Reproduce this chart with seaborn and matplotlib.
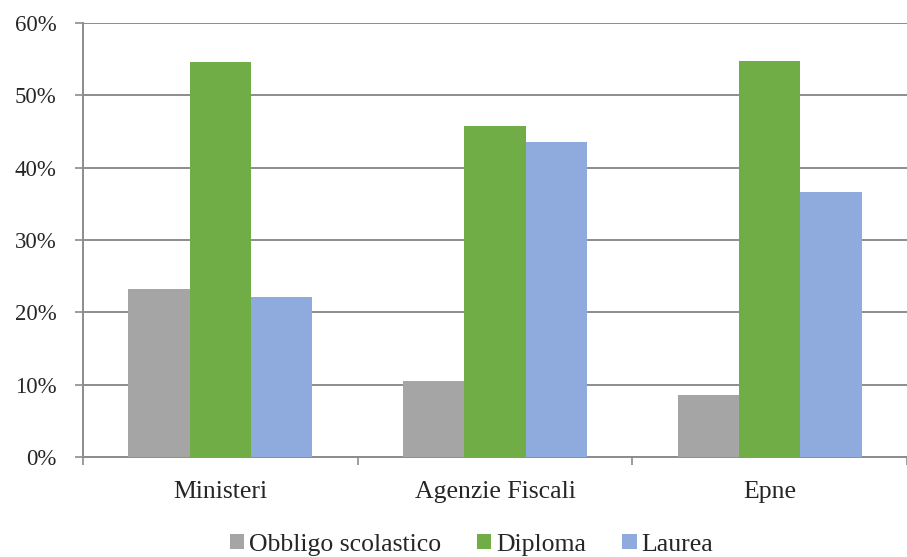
import matplotlib
matplotlib.use('Agg')
import matplotlib.pyplot as plt
from matplotlib.patches import Patch
from matplotlib.ticker import FixedLocator, PercentFormatter
import pandas as pd
import seaborn as sns

# Chart data (percent)
categories = ['Ministeri', 'Agenzie Fiscali', 'Epne']
series = ['Obbligo scolastico', 'Diploma', 'Laurea']
obbligo = [23.2, 10.6, 8.6]
diploma = [54.6, 45.8, 54.7]
laurea = [22.1, 43.6, 36.7]
colors = ['#A5A5A5', '#70AD47', '#8FAADC']

# Long format for seaborn
rows = []
for name, vals in zip(series, [obbligo, diploma, laurea]):
    for cat, v in zip(categories, vals):
        rows.append({'categoria': cat, 'titolo': name, 'valore': v})
df = pd.DataFrame(rows)

sns.set_style('white')
plt.rcParams['font.family'] = ['Liberation Serif', 'DejaVu Serif']

fig = plt.figure(figsize=(9.07, 5.57), dpi=100)
ax = fig.add_axes([0.0915, 0.179, 0.9085, 0.78])

sns.barplot(data=df, x='categoria', y='valore', hue='titolo', order=categories,
            hue_order=series, palette=colors, width=0.67, gap=0, saturation=1,
            edgecolor='none', linewidth=0, legend=False, ax=ax, zorder=3)

grid_color = '#8C8C8C'
ax.set_ylim(0, 60)
ax.set_xlim(-0.5, 2.5)
ax.set_yticks(range(0, 61, 10))
ax.yaxis.set_major_formatter(PercentFormatter(decimals=0))
ax.yaxis.grid(True, color=grid_color, linewidth=1.4, zorder=0)
ax.set_axisbelow(True)

# x ticks: labels at centres, tick marks at category boundaries
ax.xaxis.set_minor_locator(FixedLocator([-0.5, 0.5, 1.5, 2.5]))
ax.tick_params(axis='x', which='major', length=0, pad=17, labelsize=18.5)
ax.tick_params(axis='x', which='minor', length=6, width=1.2, color=grid_color, bottom=True)
ax.tick_params(axis='y', which='major', length=6, width=1.2, color=grid_color,
               left=True, labelsize=16.5, pad=13)

for side in ['top', 'right']:
    ax.spines[side].set_visible(False)
for side in ['left', 'bottom']:
    ax.spines[side].set_color(grid_color)
    ax.spines[side].set_linewidth(1.4)

ax.set_xlabel('')
ax.set_ylabel('')

handles = [Patch(facecolor=c, edgecolor='none') for c in colors]
fig.legend(handles, series, loc='center', bbox_to_anchor=(0.52, 0.022), ncol=3,
           frameon=False, fontsize=18.5, handlelength=0.55, handleheight=0.55,
           handletextpad=0.2, columnspacing=1.4)

fig.savefig('out.png', dpi=100)
